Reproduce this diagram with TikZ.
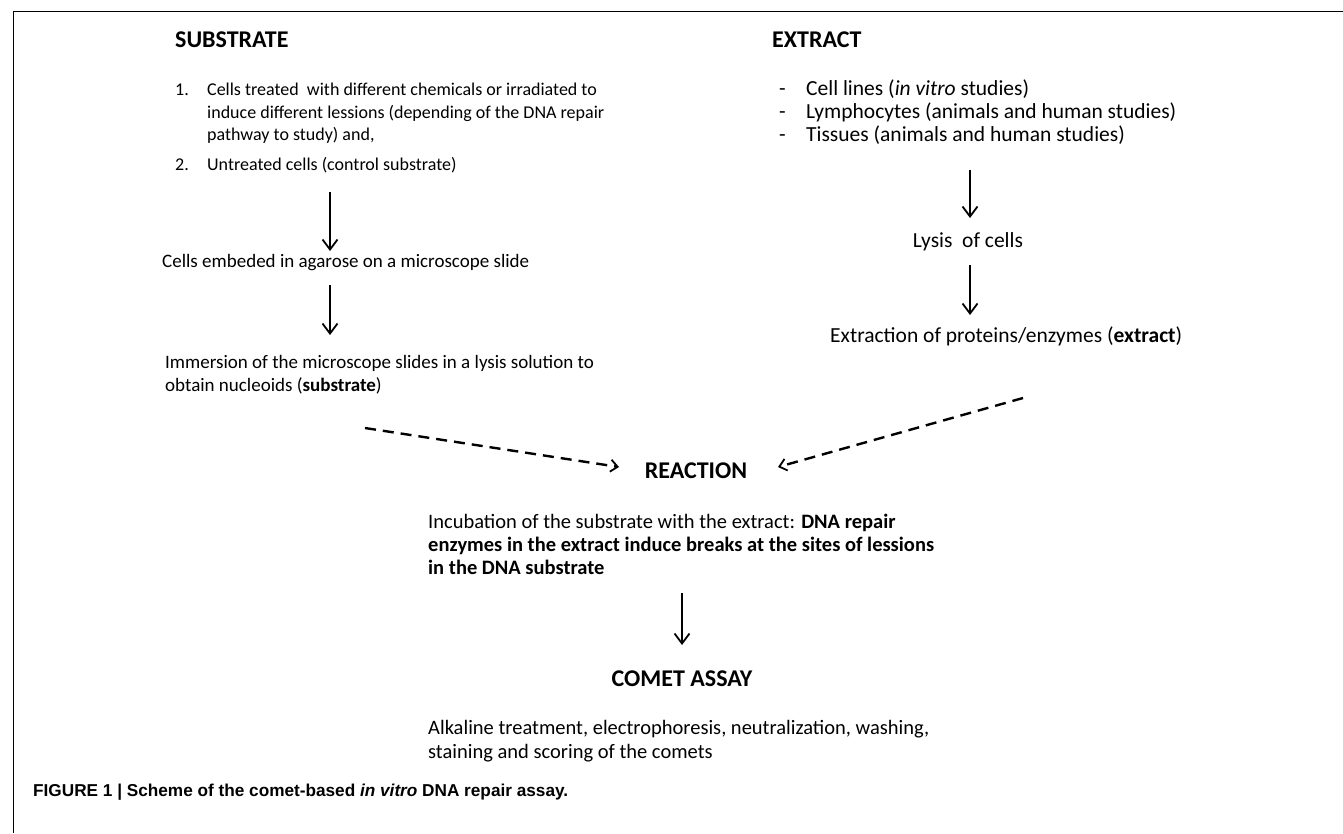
\documentclass[tikz,border=0pt]{standalone}
\usepackage{fontspec}
\setmainfont{Carlito}
\newfontfamily\capfont{Liberation Sans}
\usetikzlibrary{arrows.meta}
\begin{document}
\begin{tikzpicture}[x=1pt,y=-1pt,
  txt/.style={font=\fontsize{18}{22}\selectfont, inner sep=0, anchor=base west},
  txtm/.style={font=\fontsize{19}{23}\selectfont, inner sep=0, anchor=base west},
  txtr/.style={font=\fontsize{21.5}{25}\selectfont, inner sep=0, anchor=base west},
  txtc/.style={font=\fontsize{20.5}{24}\selectfont, inner sep=0, anchor=base west},
  hd/.style={font=\fontsize{24}{28}\selectfont\bfseries, inner sep=0, anchor=base west},
  capt/.style={font=\capfont\fontsize{17.2}{20}\selectfont\bfseries, inner sep=0, anchor=base west},
  flow/.style={line width=1.8pt, -{Straight Barb[length=10pt,width=15pt,line width=1.8pt]}},
  dflow/.style={line width=2.4pt, dash pattern=on 11pt off 7pt, -{Straight Barb[length=7pt,width=12pt,line width=1.8pt]}}]
\useasboundingbox (0,0) rectangle (1343,833);
\draw[line width=1pt] (1343,11) -- (13,11) -- (13,833);
% left column
\node[hd] (sub) at (175,47) {SUBSTRATE};
\node[txt] (s1) at (175,95) {\makebox[32pt][l]{1.}Cells treated\ \ with different chemicals or irradiated to};
\node[txt] (s2) at (207,118) {induce different lessions (depending of the DNA repair};
\node[txt] (s3) at (207,140) {pathway to study) and,};
\node[txt] (s4) at (175,170) {\makebox[32pt][l]{2.}Untreated cells (control substrate)};
\node[txtm] (emb) at (162,267) {Cells embeded in agarose on a microscope slide};
\node[txtm] (imm1) at (165,368) {Immersion of the microscope slides in a lysis solution to};
\node[txtm] (imm2) at (165,391) {obtain nucleoids (\textbf{substrate})};
% right column
\node[hd] (ext) at (772,47) {EXTRACT};
\node[txtr] (e1) at (779,95) {\makebox[27pt][l]{-}Cell lines (\textit{in vitro} studies)};
\node[txtr] (e2) at (779,118) {\makebox[27pt][l]{-}Lymphocytes (animals and human studies)};
\node[txtr] (e3) at (779,141) {\makebox[27pt][l]{-}Tissues (animals and human studies)};
\node[txtr, anchor=base] (lys) at (968,247) {Lysis\ \ of cells};
\node[txtr] (extr) at (830,342) {Extraction of proteins/enzymes (\textbf{extract})};
% center
\node[hd, anchor=base] (rea) at (696,478) {REACTION};
\node[txtc] (inc1) at (428,528) {Incubation of the substrate with the extract: \textbf{DNA repair}};
\node[txtc] (inc2) at (428,551) {\textbf{enzymes in the extract induce breaks at the sites of lessions}};
\node[txtc] (inc3) at (428,574) {\textbf{in the DNA substrate}};
\node[hd, anchor=base] (com) at (682,686) {COMET ASSAY};
\node[txtc] (al1) at (428,734) {Alkaline treatment, electrophoresis, neutralization, washing,};
\node[txtc] (al2) at (428,758) {staining and scoring of the comets};
\node[capt] (cap) at (33,796) {FIGURE 1 | Scheme of the comet-based \textit{in vitro} DNA repair assay.};
% connector ends
\coordinate (a1s) at (330,192); \coordinate (a1e) at (330,251);
\coordinate (a2s) at (330,285); \coordinate (a2e) at (330,335);
\coordinate (b1s) at (970,170); \coordinate (b1e) at (970,218);
\coordinate (b2s) at (970,265); \coordinate (b2e) at (970,315);
\coordinate (c1s) at (682,593); \coordinate (c1e) at (682,645);
\coordinate (dls) at (365,428); \coordinate (dle) at (619,467);
\coordinate (drs) at (1023,398); \coordinate (dre) at (778,467);
\draw[flow] (a1s) -- (a1e);
\draw[flow] (a2s) -- (a2e);
\draw[flow] (b1s) -- (b1e);
\draw[flow] (b2s) -- (b2e);
\draw[flow] (c1s) -- (c1e);
\draw[dflow] (dls) -- (dle);
\draw[dflow] (drs) -- (dre);
\end{tikzpicture}
\end{document}
